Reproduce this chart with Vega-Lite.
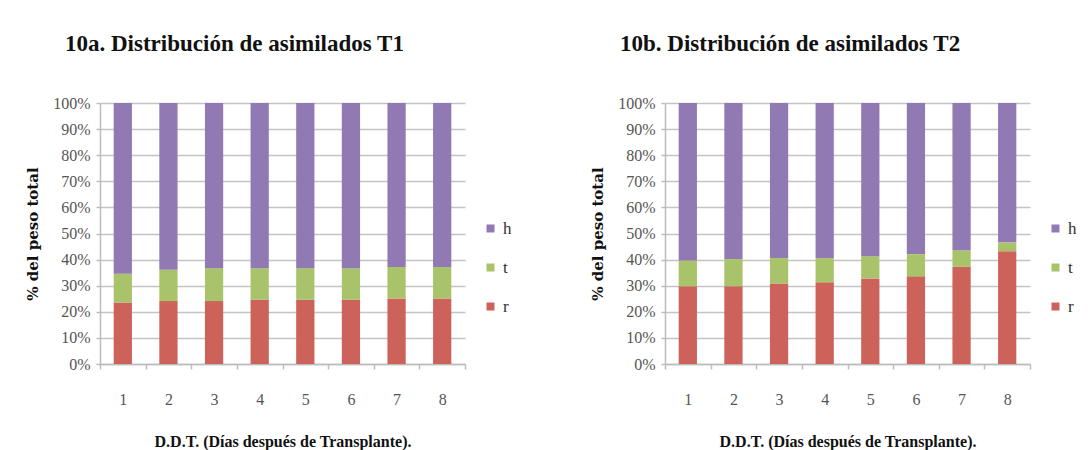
{
  "$schema": "https://vega.github.io/schema/vega-lite/v6.json",
  "background": "white",
  "padding": {"left": 25, "top": 33, "right": 10, "bottom": 2},
  "bounds": "flush",
  "spacing": 200,
  "datasets": {
    "asimilados": [
      {"panel": "T1", "dia": "1", "parte": "r", "pct": 23.6},
      {"panel": "T1", "dia": "1", "parte": "t", "pct": 11.0},
      {"panel": "T1", "dia": "1", "parte": "h", "pct": 65.4},
      {"panel": "T1", "dia": "2", "parte": "r", "pct": 24.1},
      {"panel": "T1", "dia": "2", "parte": "t", "pct": 12.0},
      {"panel": "T1", "dia": "2", "parte": "h", "pct": 63.9},
      {"panel": "T1", "dia": "3", "parte": "r", "pct": 24.1},
      {"panel": "T1", "dia": "3", "parte": "t", "pct": 12.6},
      {"panel": "T1", "dia": "3", "parte": "h", "pct": 63.3},
      {"panel": "T1", "dia": "4", "parte": "r", "pct": 24.6},
      {"panel": "T1", "dia": "4", "parte": "t", "pct": 12.1},
      {"panel": "T1", "dia": "4", "parte": "h", "pct": 63.3},
      {"panel": "T1", "dia": "5", "parte": "r", "pct": 24.6},
      {"panel": "T1", "dia": "5", "parte": "t", "pct": 12.1},
      {"panel": "T1", "dia": "5", "parte": "h", "pct": 63.3},
      {"panel": "T1", "dia": "6", "parte": "r", "pct": 24.6},
      {"panel": "T1", "dia": "6", "parte": "t", "pct": 12.1},
      {"panel": "T1", "dia": "6", "parte": "h", "pct": 63.3},
      {"panel": "T1", "dia": "7", "parte": "r", "pct": 25.1},
      {"panel": "T1", "dia": "7", "parte": "t", "pct": 12.1},
      {"panel": "T1", "dia": "7", "parte": "h", "pct": 62.8},
      {"panel": "T1", "dia": "8", "parte": "r", "pct": 25.1},
      {"panel": "T1", "dia": "8", "parte": "t", "pct": 12.1},
      {"panel": "T1", "dia": "8", "parte": "h", "pct": 62.8},
      {"panel": "T2", "dia": "1", "parte": "r", "pct": 29.8},
      {"panel": "T2", "dia": "1", "parte": "t", "pct": 9.9},
      {"panel": "T2", "dia": "1", "parte": "h", "pct": 60.3},
      {"panel": "T2", "dia": "2", "parte": "r", "pct": 29.8},
      {"panel": "T2", "dia": "2", "parte": "t", "pct": 10.4},
      {"panel": "T2", "dia": "2", "parte": "h", "pct": 59.8},
      {"panel": "T2", "dia": "3", "parte": "r", "pct": 30.8},
      {"panel": "T2", "dia": "3", "parte": "t", "pct": 9.8},
      {"panel": "T2", "dia": "3", "parte": "h", "pct": 59.4},
      {"panel": "T2", "dia": "4", "parte": "r", "pct": 31.3},
      {"panel": "T2", "dia": "4", "parte": "t", "pct": 9.3},
      {"panel": "T2", "dia": "4", "parte": "h", "pct": 59.4},
      {"panel": "T2", "dia": "5", "parte": "r", "pct": 32.8},
      {"panel": "T2", "dia": "5", "parte": "t", "pct": 8.5},
      {"panel": "T2", "dia": "5", "parte": "h", "pct": 58.7},
      {"panel": "T2", "dia": "6", "parte": "r", "pct": 33.6},
      {"panel": "T2", "dia": "6", "parte": "t", "pct": 8.5},
      {"panel": "T2", "dia": "6", "parte": "h", "pct": 57.9},
      {"panel": "T2", "dia": "7", "parte": "r", "pct": 37.2},
      {"panel": "T2", "dia": "7", "parte": "t", "pct": 6.4},
      {"panel": "T2", "dia": "7", "parte": "h", "pct": 56.4},
      {"panel": "T2", "dia": "8", "parte": "r", "pct": 43.2},
      {"panel": "T2", "dia": "8", "parte": "t", "pct": 3.4},
      {"panel": "T2", "dia": "8", "parte": "h", "pct": 53.4}
    ]
  },
  "config": {
    "font": "Liberation Serif",
    "view": {"stroke": null},
    "title": {"font": "Liberation Serif", "fontWeight": "bold", "fontSize": 23, "color": "#111111", "anchor": "start", "frame": "group", "offset": 39},
    "axis": {
      "labelFont": "Liberation Serif", "labelFontSize": 16, "labelColor": "#555555",
      "titleFont": "Liberation Serif", "titleColor": "#111111", "titleFontWeight": "bold",
      "domainColor": "#bcbcbc", "tickColor": "#bcbcbc", "gridColor": "#c4c4c4",
      "domainWidth": 1.5, "tickWidth": 1.5, "gridWidth": 1.5
    },
    "legend": {"labelFont": "Liberation Serif", "labelFontSize": 17, "labelColor": "#333333"}
  },
  "resolve": {"scale": {"color": "independent"}, "legend": {"color": "independent"}},
  "hconcat": [
    {
      "width": 365,
      "height": 261,
      "title": {"text": "10a.  Distribución de asimilados T1", "dx": -35, "font": "Liberation Serif", "fontWeight": "bold", "fontSize": 23},
      "data": {"name": "asimilados"},
      "transform": [
        {"filter": "datum.panel === 'T1'"},
        {"calculate": "datum.parte === 'r' ? 0 : (datum.parte === 't' ? 1 : 2)", "as": "capa"}
      ],
      "mark": {"type": "bar", "width": {"band": 0.4}},
      "encoding": {
        "x": {
          "field": "dia", "type": "ordinal",
          "scale": {"paddingInner": 0, "paddingOuter": 0},
          "axis": {"title": "D.D.T. (Días después de Transplante).", "titleFont": "Liberation Serif", "titleFontSize": 16, "titlePadding": 26, "labelFont": "Liberation Serif", "labelFontSize": 16, "labelAngle": 0, "labelPadding": 22, "tickBand": "extent", "tickSize": 5}
        },
        "y": {
          "field": "pct", "type": "quantitative", "stack": "normalize",
          "scale": {"domain": [0, 1]},
          "axis": {"title": "% del peso total", "titleFont": "DejaVu Serif", "titleFontSize": 15, "titlePadding": 12, "labelFont": "Liberation Serif", "labelFontSize": 16, "format": ".0%", "values": [0, 0.1, 0.2, 0.3, 0.4, 0.5, 0.6, 0.7, 0.8, 0.9, 1], "tickSize": 4, "labelPadding": 6}
        },
        "color": {
          "field": "parte", "type": "nominal",
          "scale": {"domain": ["h", "t", "r"], "range": ["#9179b4", "#a9c36a", "#cd625a"]},
          "legend": {"title": null, "orient": "none", "legendX": 382, "legendY": 117, "symbolType": "square", "symbolSize": 64, "rowPadding": 21, "labelOffset": 4, "labelFont": "Liberation Serif"}
        },
        "order": {"field": "capa", "type": "quantitative"}
      }
    },
    {
      "width": 365,
      "height": 261,
      "title": {"text": "10b.  Distribución de asimilados T2", "dx": -45, "font": "Liberation Serif", "fontWeight": "bold", "fontSize": 23},
      "data": {"name": "asimilados"},
      "transform": [
        {"filter": "datum.panel === 'T2'"},
        {"calculate": "datum.parte === 'r' ? 0 : (datum.parte === 't' ? 1 : 2)", "as": "capa"}
      ],
      "mark": {"type": "bar", "width": {"band": 0.4}},
      "encoding": {
        "x": {
          "field": "dia", "type": "ordinal",
          "scale": {"paddingInner": 0, "paddingOuter": 0},
          "axis": {"title": "D.D.T. (Días después de Transplante).", "titleFont": "Liberation Serif", "titleFontSize": 16, "titlePadding": 26, "labelFont": "Liberation Serif", "labelFontSize": 16, "labelAngle": 0, "labelPadding": 22, "tickBand": "extent", "tickSize": 5}
        },
        "y": {
          "field": "pct", "type": "quantitative", "stack": "normalize",
          "scale": {"domain": [0, 1]},
          "axis": {"title": "% del peso total", "titleFont": "DejaVu Serif", "titleFontSize": 15, "titlePadding": 12, "labelFont": "Liberation Serif", "labelFontSize": 16, "format": ".0%", "values": [0, 0.1, 0.2, 0.3, 0.4, 0.5, 0.6, 0.7, 0.8, 0.9, 1], "tickSize": 4, "labelPadding": 6}
        },
        "color": {
          "field": "parte", "type": "nominal",
          "scale": {"domain": ["h", "t", "r"], "range": ["#9179b4", "#a9c36a", "#cd625a"]},
          "legend": {"title": null, "orient": "none", "legendX": 382, "legendY": 117, "symbolType": "square", "symbolSize": 64, "rowPadding": 21, "labelOffset": 4, "labelFont": "Liberation Serif"}
        },
        "order": {"field": "capa", "type": "quantitative"}
      }
    }
  ]
}
